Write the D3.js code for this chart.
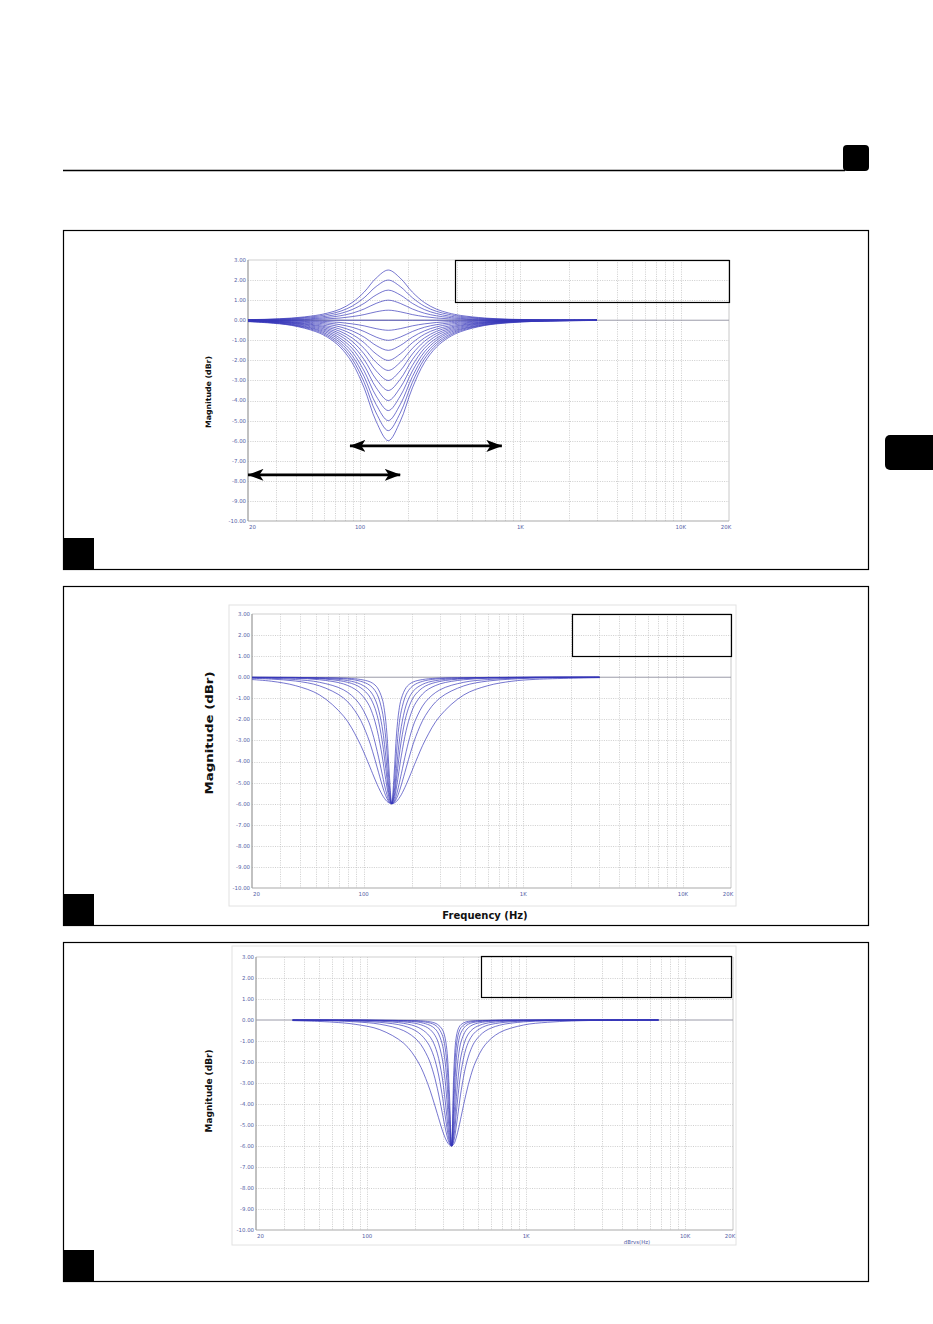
<!DOCTYPE html>
<html>
<head>
<meta charset="utf-8">
<title>Magnitude (dBr) - filter families</title>
<script src="https://cdn.jsdelivr.net/npm/d3@7"></script>
<style>
  body { margin: 0; background: #fff; }
  svg { display: block; }
  .grid line { stroke: #c2c2c2; stroke-width: 0.8; stroke-dasharray: 1,1.3; }
  .tick-lbl { font-family: "DejaVu Sans", sans-serif; font-size: 5.4px; fill: #5561a6; }
  .curve { fill: none; stroke: #3636b8; stroke-width: 0.95; stroke-opacity: 0.72; }
  .ylab, .xlab { font-family: "DejaVu Sans", sans-serif; font-weight: bold; fill: #111; }
</style>
</head>
<body>
<script>
var W = 933, H = 1324;

// ---------------- axes ----------------
var dbTicks = [3, 2, 1, 0, -1, -2, -3, -4, -5, -6, -7, -8, -9, -10];
var freqTicks = [20, 100, 1000, 10000, 20000];
var freqTickLabels = ["20", "100", "1K", "10K", "20K"];
var gridFreqs = [30, 40, 50, 60, 70, 80, 90, 100, 200, 300, 400, 500, 600, 700, 800, 900,
                 1000, 2000, 3000, 4000, 5000, 6000, 7000, 8000, 9000, 10000];

// ---------------- panel 1 : boost / cut around 150 Hz (+2.5 .. -6 dB) ----------------
var freqsA = [20, 26.5, 37.5, 53, 63, 75, 89.2, 106, 126, 150, 178, 212, 252, 300, 357, 424, 600, 849, 1200, 1697, 3000];
var curvesA = [
  [0.03, 0.05, 0.11, 0.24, 0.36, 0.55, 0.88, 1.40, 2.10, 2.50, 2.10, 1.40, 0.88, 0.55, 0.36, 0.24, 0.11, 0.05, 0.03, 0.01, 0],
  [0.02, 0.04, 0.09, 0.19, 0.29, 0.44, 0.70, 1.12, 1.68, 2.00, 1.68, 1.12, 0.70, 0.44, 0.29, 0.19, 0.09, 0.04, 0.02, 0.01, 0],
  [0.02, 0.03, 0.07, 0.14, 0.21, 0.33, 0.53, 0.84, 1.26, 1.50, 1.26, 0.84, 0.53, 0.33, 0.21, 0.14, 0.07, 0.03, 0.02, 0.01, 0],
  [0.01, 0.02, 0.04, 0.09, 0.14, 0.22, 0.35, 0.56, 0.84, 1.00, 0.84, 0.56, 0.35, 0.22, 0.14, 0.09, 0.04, 0.02, 0.01, 0.01, 0],
  [0.01, 0.01, 0.02, 0.05, 0.07, 0.11, 0.18, 0.28, 0.42, 0.50, 0.42, 0.28, 0.18, 0.11, 0.07, 0.05, 0.02, 0.01, 0.01, 0, 0],
  [0, 0, 0, 0, 0, 0, 0, 0, 0, 0, 0, 0, 0, 0, 0, 0, 0, 0, 0, 0, 0],
  [-0.01, -0.01, -0.02, -0.05, -0.07, -0.11, -0.18, -0.28, -0.42, -0.50, -0.42, -0.28, -0.18, -0.11, -0.07, -0.05, -0.02, -0.01, -0.01, 0, 0],
  [-0.01, -0.02, -0.04, -0.09, -0.14, -0.22, -0.35, -0.56, -0.84, -1.00, -0.84, -0.56, -0.35, -0.22, -0.14, -0.09, -0.04, -0.02, -0.01, -0.01, 0],
  [-0.02, -0.03, -0.07, -0.14, -0.21, -0.33, -0.53, -0.84, -1.26, -1.50, -1.26, -0.84, -0.53, -0.33, -0.21, -0.14, -0.07, -0.03, -0.02, -0.01, 0],
  [-0.02, -0.04, -0.09, -0.19, -0.29, -0.44, -0.70, -1.12, -1.68, -2.00, -1.68, -1.12, -0.70, -0.44, -0.29, -0.19, -0.09, -0.04, -0.02, -0.01, 0],
  [-0.03, -0.05, -0.11, -0.24, -0.36, -0.55, -0.88, -1.40, -2.10, -2.50, -2.10, -1.40, -0.88, -0.55, -0.36, -0.24, -0.11, -0.05, -0.03, -0.01, 0],
  [-0.03, -0.06, -0.13, -0.28, -0.43, -0.66, -1.05, -1.68, -2.52, -3.00, -2.52, -1.68, -1.05, -0.66, -0.43, -0.28, -0.13, -0.06, -0.03, -0.02, 0],
  [-0.04, -0.07, -0.15, -0.33, -0.50, -0.77, -1.23, -1.96, -2.94, -3.50, -2.94, -1.96, -1.23, -0.77, -0.50, -0.33, -0.15, -0.07, -0.04, -0.02, -0.01],
  [-0.05, -0.08, -0.17, -0.38, -0.57, -0.89, -1.40, -2.25, -3.36, -4.00, -3.36, -2.25, -1.40, -0.89, -0.57, -0.38, -0.17, -0.08, -0.04, -0.02, -0.01],
  [-0.05, -0.09, -0.20, -0.43, -0.64, -1.00, -1.58, -2.53, -3.78, -4.50, -3.78, -2.53, -1.58, -1.00, -0.64, -0.43, -0.20, -0.09, -0.05, -0.02, -0.01],
  [-0.06, -0.10, -0.22, -0.47, -0.72, -1.11, -1.76, -2.81, -4.20, -5.00, -4.20, -2.81, -1.76, -1.11, -0.72, -0.47, -0.22, -0.10, -0.05, -0.03, -0.01],
  [-0.06, -0.11, -0.24, -0.52, -0.79, -1.22, -1.93, -3.09, -4.62, -5.50, -4.62, -3.09, -1.93, -1.22, -0.79, -0.52, -0.24, -0.11, -0.06, -0.03, -0.01],
  [-0.07, -0.13, -0.26, -0.57, -0.86, -1.33, -2.11, -3.37, -5.04, -6.00, -5.04, -3.37, -2.11, -1.33, -0.86, -0.57, -0.26, -0.13, -0.06, -0.03, -0.01]
];
// double arrows (Hz from, Hz to, dB level)
var arrowsA = [
  {from: 86.5, to: 766, db: -6.26},
  {from: 20, to: 178, db: -7.7}
];

// ---------------- panel 2 : -6 dB cuts at 150 Hz, various widths ----------------
var freqsB = [20, 26.5, 37.5, 53, 75, 92.3, 106.1, 113.7, 121.8, 130.6, 135.2, 140, 144.9, 150,
              155.3, 160.8, 166.4, 172.3, 184.7, 197.9, 212.1, 243.7, 300, 424.3, 600, 848.5, 1200, 3000];
var curvesB = [
  [-0.11, -0.19, -0.40, -0.84, -1.85, -2.97, -4.00, -4.56, -5.10, -5.57, -5.75, -5.89, -5.97, -6, -5.97, -5.89, -5.75, -5.57, -5.10, -4.56, -4.00, -2.97, -1.85, -0.84, -0.40, -0.19, -0.10, -0.02],
  [-0.05, -0.09, -0.18, -0.41, -0.99, -1.82, -2.82, -3.51, -4.30, -5.11, -5.47, -5.75, -5.94, -6, -5.94, -5.75, -5.47, -5.11, -4.30, -3.51, -2.82, -1.82, -0.99, -0.41, -0.18, -0.09, -0.04, -0.01],
  [-0.03, -0.05, -0.11, -0.24, -0.60, -1.18, -2.00, -2.65, -3.53, -4.58, -5.11, -5.57, -5.89, -6, -5.89, -5.57, -5.11, -4.58, -3.53, -2.65, -2.00, -1.18, -0.60, -0.24, -0.11, -0.05, -0.02, 0],
  [-0.01, -0.03, -0.05, -0.12, -0.32, -0.67, -1.22, -1.73, -2.53, -3.73, -4.48, -5.21, -5.78, -6, -5.78, -5.21, -4.48, -3.73, -2.53, -1.73, -1.22, -0.67, -0.32, -0.12, -0.05, -0.03, -0.01, 0],
  [-0.01, -0.02, -0.03, -0.07, -0.20, -0.42, -0.80, -1.18, -1.83, -3.00, -3.84, -4.80, -5.65, -6, -5.65, -4.80, -3.84, -3.00, -1.83, -1.18, -0.80, -0.42, -0.20, -0.07, -0.03, -0.02, -0.01, 0],
  [-0.01, -0.01, -0.02, -0.05, -0.13, -0.28, -0.54, -0.81, -1.32, -2.34, -3.19, -4.32, -5.47, -6, -5.47, -4.32, -3.19, -2.34, -1.32, -0.81, -0.54, -0.28, -0.13, -0.05, -0.02, -0.01, 0, 0],
  [0, -0.01, -0.01, -0.03, -0.07, -0.16, -0.32, -0.49, -0.82, -1.59, -2.34, -3.54, -5.12, -6, -5.12, -3.54, -2.34, -1.59, -0.82, -0.49, -0.32, -0.16, -0.07, -0.03, -0.01, -0.01, 0, 0],
  [0, 0, -0.01, -0.02, -0.04, -0.09, -0.18, -0.28, -0.49, -1.01, -1.59, -2.69, -4.59, -6, -4.59, -2.69, -1.59, -1.01, -0.49, -0.28, -0.18, -0.09, -0.04, -0.02, -0.01, 0, 0, 0]
];

// ---------------- panel 3 : -6 dB cuts at 340 Hz, various widths ----------------
var freqsC = [34, 60.1, 85, 120.2, 170, 209.3, 240.4, 257.7, 276.2, 296, 306.4, 317.2, 328.4, 340,
              352, 364.4, 377.3, 390.6, 418.6, 448.6, 480.8, 552.3, 680, 961.7, 1360, 1923, 2720, 6800];
var curvesC = [
  [-0.03, -0.10, -0.21, -0.46, -1.11, -2.00, -3.03, -3.71, -4.46, -5.21, -5.53, -5.78, -5.94, -6, -5.89, -5.57, -5.11, -4.58, -3.53, -2.65, -2.00, -1.18, -0.60, -0.24, -0.11, -0.05, -0.02, 0],
  [-0.01, -0.04, -0.09, -0.20, -0.51, -1.01, -1.75, -2.37, -3.25, -4.37, -4.96, -5.49, -5.86, -6, -5.72, -5.01, -4.16, -3.35, -2.15, -1.42, -0.98, -0.53, -0.25, -0.09, -0.04, -0.02, -0.01, 0],
  [-0.01, -0.02, -0.05, -0.11, -0.28, -0.59, -1.09, -1.56, -2.33, -3.54, -4.32, -5.11, -5.75, -6, -5.49, -4.37, -3.26, -2.40, -1.36, -0.84, -0.56, -0.29, -0.14, -0.05, -0.02, -0.01, 0, 0],
  [0, -0.01, -0.03, -0.06, -0.16, -0.35, -0.67, -0.99, -1.58, -2.68, -3.54, -4.59, -5.57, -6, -5.16, -3.64, -2.44, -1.67, -0.87, -0.52, -0.34, -0.17, -0.08, -0.03, -0.01, -0.01, 0, 0],
  [0, -0.01, -0.01, -0.03, -0.09, -0.19, -0.37, -0.57, -0.95, -1.80, -2.59, -3.79, -5.24, -6, -4.59, -2.69, -1.59, -1.01, -0.49, -0.28, -0.18, -0.09, -0.04, -0.02, -0.01, 0, 0, 0],
  [0, 0, -0.01, -0.02, -0.05, -0.10, -0.21, -0.32, -0.55, -1.12, -1.74, -2.88, -4.72, -6, -3.79, -1.80, -0.96, -0.58, -0.27, -0.15, -0.10, -0.05, -0.02, -0.01, 0, 0, 0, 0],
  [0, 0, 0, -0.01, -0.03, -0.06, -0.12, -0.18, -0.32, -0.69, -1.12, -2.05, -4.05, -6, -2.98, -1.19, -0.59, -0.35, -0.16, -0.09, -0.06, -0.03, -0.01, 0, 0, 0, 0, 0],
  [0, 0, 0, -0.01, -0.02, -0.03, -0.07, -0.11, -0.20, -0.43, -0.72, -1.41, -3.31, -6, -2.19, -0.76, -0.36, -0.21, -0.09, -0.05, -0.03, -0.02, -0.01, 0, 0, 0, 0, 0]
];

// ---------------- layout ----------------
var panels = [
  {top: 230, bottom: 569, plot: [248, 260, 729, 521], legend: [455, 260, 729, 302],
   yLabel: {x: 211, y: 392, size: 7.5, len: 72},
   freqs: freqsA, curves: curvesA, arrows: arrowsA},
  {top: 586, bottom: 925, plot: [252, 614, 731, 888], legend: [572, 614, 731, 656], frame: [229, 605, 736, 906],
   yLabel: {x: 213, y: 733, size: 11, len: 123},
   xTitle: {text: "Frequency (Hz)", x: 485, y: 919, size: 10},
   freqs: freqsB, curves: curvesB},
  {top: 942, bottom: 1281, plot: [256, 957, 733, 1230], legend: [481, 956, 731, 997], frame: [232, 946, 736, 1245],
   yLabel: {x: 212, y: 1091, size: 8.5, len: 83},
   note: {text: "dBrvs(Hz)", x: 637, y: 1244},
   freqs: freqsC, curves: curvesC}
];

var svg = d3.select("body").append("svg")
    .attr("width", W)
    .attr("height", H);

svg.append("rect").attr("width", W).attr("height", H).attr("fill", "#fff");

// header rule + page tabs
svg.append("line")
    .attr("x1", 63).attr("x2", 845).attr("y1", 170.5).attr("y2", 170.5)
    .attr("stroke", "#000").attr("stroke-width", 1.3);
svg.append("rect")
    .attr("x", 843).attr("y", 145).attr("width", 26).attr("height", 26).attr("rx", 4)
    .attr("fill", "#000");
svg.append("rect")
    .attr("x", 885).attr("y", 435).attr("width", 60).attr("height", 35).attr("rx", 5)
    .attr("fill", "#000");

// arrow head
svg.append("defs").append("marker")
    .attr("id", "head")
    .attr("viewBox", "0 0 16 12")
    .attr("refX", 15.5).attr("refY", 6)
    .attr("markerWidth", 16).attr("markerHeight", 12)
    .attr("markerUnits", "userSpaceOnUse")
    .attr("orient", "auto-start-reverse")
    .append("path")
    .attr("d", "M0,0 L16,6 L0,12 L4,6 Z")
    .attr("fill", "#000");

panels.forEach(function(p) {
    var g = svg.append("g");

    // panel frame + corner block
    g.append("rect")
        .attr("x", 63.5).attr("y", p.top + 0.5)
        .attr("width", 805).attr("height", p.bottom - p.top)
        .attr("fill", "none").attr("stroke", "#000").attr("stroke-width", 1.2);
    g.append("rect")
        .attr("x", 63).attr("y", p.bottom - 31).attr("width", 31).attr("height", 31)
        .attr("fill", "#000");

    if (p.frame) {
        g.append("rect")
            .attr("x", p.frame[0]).attr("y", p.frame[1])
            .attr("width", p.frame[2] - p.frame[0]).attr("height", p.frame[3] - p.frame[1])
            .attr("fill", "none").attr("stroke", "#e2e2e2").attr("stroke-width", 1);
    }

    var x = d3.scaleLog().domain([20, 20000]).range([p.plot[0], p.plot[2]]);
    var y = d3.scaleLinear().domain([-10, 3]).range([p.plot[3], p.plot[1]]);

    // grid
    var grid = g.append("g").attr("class", "grid");
    grid.selectAll("line.v").data(gridFreqs).enter().append("line")
        .attr("class", "v")
        .attr("x1", function(d) { return Math.round(x(d)) + 0.5; })
        .attr("x2", function(d) { return Math.round(x(d)) + 0.5; })
        .attr("y1", y(3)).attr("y2", y(-10));
    grid.selectAll("line.h").data(dbTicks.filter(function(d) { return d < 3 && d > -10 && d !== 0; }))
        .enter().append("line")
        .attr("class", "h")
        .attr("x1", x(20)).attr("x2", x(20000))
        .attr("y1", function(d) { return Math.round(y(d)) + 0.5; })
        .attr("y2", function(d) { return Math.round(y(d)) + 0.5; });

    // plot border
    g.append("line").attr("x1", x(20)).attr("x2", x(20000)).attr("y1", y(3)).attr("y2", y(3))
        .attr("stroke", "#cfcfcf").attr("stroke-width", 1.2);
    g.append("line").attr("x1", x(20000)).attr("x2", x(20000)).attr("y1", y(3)).attr("y2", y(-10))
        .attr("stroke", "#c8c8c8").attr("stroke-width", 1);
    g.append("line").attr("x1", x(20)).attr("x2", x(20000)).attr("y1", y(-10)).attr("y2", y(-10))
        .attr("stroke", "#a9a9a9").attr("stroke-width", 1.2);
    g.append("line").attr("x1", x(20)).attr("x2", x(20)).attr("y1", y(3)).attr("y2", y(-10))
        .attr("stroke", "#a0a0a0").attr("stroke-width", 1.3);
    g.append("line").attr("x1", x(20)).attr("x2", x(20000)).attr("y1", y(0)).attr("y2", y(0))
        .attr("stroke", "#9a9aa8").attr("stroke-width", 1);

    // tick labels
    g.selectAll("text.ytick").data(dbTicks).enter().append("text")
        .attr("class", "tick-lbl ytick")
        .attr("x", x(20) - 2)
        .attr("y", function(d) { return y(d); })
        .attr("dy", "0.35em")
        .attr("text-anchor", "end")
        .text(function(d) { return d.toFixed(2); });
    g.selectAll("text.xtick").data(freqTicks).enter().append("text")
        .attr("class", "tick-lbl xtick")
        .attr("x", function(d, i) { return i === 0 ? x(d) + 1 : (i === freqTicks.length - 1 ? x(d) - 3 : x(d)); })
        .attr("y", y(-10) + 7.5)
        .attr("text-anchor", function(d, i) { return i === 0 ? "start" : "middle"; })
        .text(function(d, i) { return freqTickLabels[i]; });

    // curves
    var line = d3.line()
        .x(function(d) { return x(d[0]); })
        .y(function(d) { return y(d[1]); })
        .curve(d3.curveCatmullRom.alpha(0.5));
    g.selectAll("path.curve").data(p.curves).enter().append("path")
        .attr("class", "curve")
        .attr("d", function(vals) { return line(d3.zip(p.freqs, vals)); });

    // y label
    g.append("text")
        .attr("class", "ylab")
        .attr("transform", "translate(" + p.yLabel.x + "," + p.yLabel.y + ") rotate(-90)")
        .attr("text-anchor", "middle")
        .attr("font-size", p.yLabel.size)
        .attr("textLength", p.yLabel.len)
        .attr("lengthAdjust", "spacingAndGlyphs")
        .text("Magnitude (dBr)");

    if (p.xTitle) {
        g.append("text")
            .attr("class", "xlab")
            .attr("x", p.xTitle.x).attr("y", p.xTitle.y)
            .attr("text-anchor", "middle")
            .attr("font-size", p.xTitle.size)
            .text(p.xTitle.text);
    }
    if (p.note) {
        g.append("text")
            .attr("class", "tick-lbl")
            .attr("x", p.note.x).attr("y", p.note.y)
            .attr("text-anchor", "middle")
            .text(p.note.text);
    }

    // empty legend box
    g.append("rect")
        .attr("x", p.legend[0] + 0.5).attr("y", p.legend[1] + 0.5)
        .attr("width", p.legend[2] - p.legend[0]).attr("height", p.legend[3] - p.legend[1])
        .attr("fill", "none").attr("stroke", "#000").attr("stroke-width", 1.2);

    // arrows
    if (p.arrows) {
        g.selectAll("line.arrow").data(p.arrows).enter().append("line")
            .attr("class", "arrow")
            .attr("x1", function(d) { return x(d.from); })
            .attr("x2", function(d) { return x(d.to); })
            .attr("y1", function(d) { return y(d.db); })
            .attr("y2", function(d) { return y(d.db); })
            .attr("stroke", "#000").attr("stroke-width", 2.8)
            .attr("marker-start", "url(#head)")
            .attr("marker-end", "url(#head)");
    }
});
</script>
</body>
</html>
